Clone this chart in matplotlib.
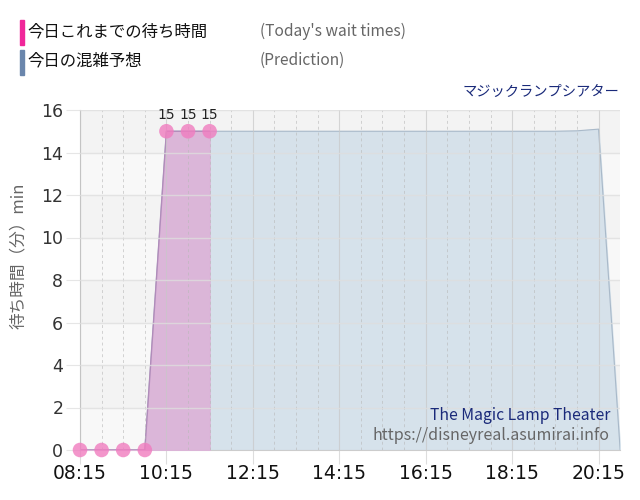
import numpy as np
import matplotlib.pyplot as plt

plt.rcParams['font.family'] = ['Noto Sans CJK JP', 'DejaVu Sans']

# 実績 (today's wait times)
actual_times = ['08:15', '08:45', '09:15', '09:45', '10:15', '10:45', '11:15']
actual_wait = [0, 0, 0, 0, 15, 15, 15]

# 予想 (prediction)
pred_times = ['08:15', '08:45', '09:15', '09:45', '10:15', '10:45', '11:15', '11:45',
              '12:15', '12:45', '13:15', '13:45', '14:15', '14:45', '15:15', '15:45',
              '16:15', '16:45', '17:15', '17:45', '18:15', '18:45', '19:15', '19:45',
              '20:15', '20:45']
pred_wait = [0, 0, 0, 0, 15, 15, 15, 15, 15, 15, 15, 15, 15, 15, 15, 15,
             15, 15, 15, 15, 15, 15, 15, 15.02, 15.1, 0]

xtick_labels = ['08:15', '10:15', '12:15', '14:15', '16:15', '18:15', '20:15']


def to_min(s):
    h, m = s.split(':')
    return int(h) * 60 + int(m)


ax_t = np.array([to_min(t) for t in actual_times])
pr_t = np.array([to_min(t) for t in pred_times])

fig = plt.figure(figsize=(6.4, 5), dpi=100)
ax = fig.add_axes([0.125, 0.1, 0.844, 0.68])
ax.set_xlim(to_min('08:15'), to_min('20:45'))
ax.set_ylim(0, 16)

# background bands
ax.set_facecolor('#f3f3f3')
for y0 in range(0, 16, 4):
    ax.axhspan(y0, y0 + 2, color='#f8f8f8', zorder=0)

# grid (drawn over the fills, like the original)
for t in range(to_min('08:15'), to_min('20:45') + 1, 30):
    if (t - to_min('08:15')) % 120 == 0:
        ax.axvline(t, color='#c8c8c8', lw=0.8, alpha=0.7, zorder=5.5)
    else:
        ax.axvline(t, color='#b8b8b8', lw=0.7, ls=(0, (3, 3)), alpha=0.6, zorder=5.5)
for y in range(2, 17, 2):
    ax.axhline(y, color='#dedede', lw=1.0, alpha=0.8, zorder=5.5)

# prediction
ax.fill_between(pr_t, pred_wait, color='#d3e0ea', alpha=0.9, zorder=2)
ax.plot(pr_t, pred_wait, color='#a9b9c9', lw=0.8, zorder=3)

# actual
ax.fill_between(ax_t, actual_wait, color='#dcb4d8', alpha=0.95, zorder=4)
ax.plot(ax_t, actual_wait, color='#b08cba', lw=1.0, zorder=5)
ax.scatter(ax_t, actual_wait, s=110, color='#f07cbf', alpha=0.8, edgecolors='none',
           zorder=6, clip_on=False)
for t, v in zip(ax_t, actual_wait):
    if v > 0:
        ax.text(t, v + 0.45, str(v), ha='center', va='bottom', fontsize=10,
                color='#222222', zorder=7, family=['DejaVu Sans'])

for s in ['top', 'right']:
    ax.spines[s].set_visible(False)
ax.spines['left'].set_color('#bbbbbb')
ax.spines['bottom'].set_color('#cccccc')

ax.set_xticks([to_min(t) for t in xtick_labels])
ax.set_xticklabels(xtick_labels, fontsize=13.5, color='#111111',
                   family=['DejaVu Sans'])
ax.set_yticks(range(0, 17, 2))
ax.set_yticklabels([str(v) for v in range(0, 17, 2)], fontsize=12.5,
                   color='#333333', family=['DejaVu Sans'])
ax.tick_params(axis='x', length=10, color='#dddddd', pad=0)
ax.tick_params(axis='y', length=10, color='#e6e6e6', pad=2)

ax.set_ylabel('待ち時間（分）min', fontsize=12, color='#666666', labelpad=9)
ax.yaxis.set_label_coords(-0.098, 0.57)

# legend header
fig.patches.append(plt.Rectangle((20 / 640, 1 - 45 / 500), 4 / 640, 25 / 500,
                                 transform=fig.transFigure, color='#f0279a'))
fig.patches.append(plt.Rectangle((20 / 640, 1 - 75 / 500), 4 / 640, 25 / 500,
                                 transform=fig.transFigure, color='#6a86ac'))
fig.text(27 / 640, 1 - 32 / 500, '今日これまでの待ち時間', fontsize=11.8, va='center',
         color='#111111')
fig.text(27 / 640, 1 - 61 / 500, '今日の混雑予想', fontsize=11.8, va='center',
         color='#111111')
fig.text(260 / 640, 1 - 31 / 500, "(Today's wait times)", fontsize=11.2,
         va='center', color='#666666')
fig.text(260 / 640, 1 - 60 / 500, '(Prediction)', fontsize=11.2, va='center',
         color='#666666')
fig.text(619 / 640, 1 - 92 / 500, 'マジックランプシアター', fontsize=10.3, ha='right',
         va='center', color='#1a2a7a')

# watermark
fig.text(610 / 640, 1 - 415 / 500, 'The Magic Lamp Theater', fontsize=11.3,
         ha='right', va='center', color='#1a2a7a', zorder=10)
fig.text(610 / 640, 1 - 436 / 500, 'https://disneyreal.asumirai.info', fontsize=11.5,
         ha='right', va='center', color='#666666', zorder=10)

fig.savefig('out.png', dpi=100)
